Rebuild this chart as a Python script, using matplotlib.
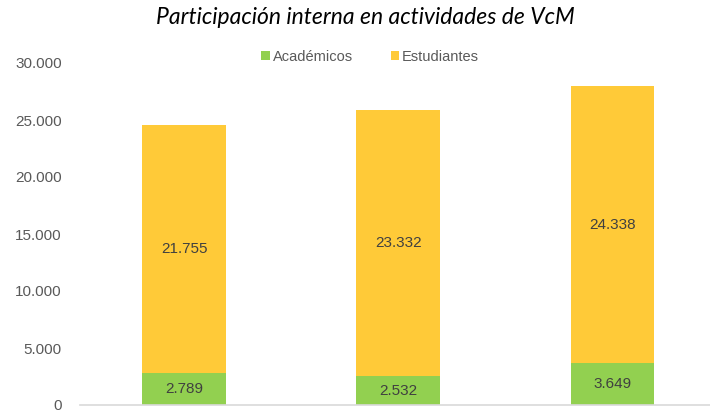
import numpy as np
import matplotlib.pyplot as plt

# datos
grupos = ["2018", "2019", "2020"]
academicos = [2789, 2532, 3649]
estudiantes = [21755, 23332, 24338]
etiquetas_y = ["0", "5.000", "10.000", "15.000", "20.000", "25.000", "30.000"]

verde = "#92D050"
amarillo = "#FFCA38"
gris = "#595959"

def fmt(v):
    return "{:,}".format(v).replace(",", ".")

fig = plt.figure(figsize=(7.10, 4.13), dpi=100)
ax = fig.add_axes([80/710, 8/413, 1 - 80/710, (405 - 63)/413])

x = np.arange(len(grupos))
ancho = 0.39
b1 = ax.bar(x, academicos, ancho, color=verde, label="Académicos")
b2 = ax.bar(x, estudiantes, ancho, bottom=academicos, color=amarillo, label="Estudiantes")

for i in range(len(x)):
    ax.text(x[i], academicos[i]/2, fmt(academicos[i]), ha="center", va="center",
            fontsize=11, color="#404040", family="Liberation Sans")
    ax.text(x[i], academicos[i] + estudiantes[i]/2, fmt(estudiantes[i]), ha="center",
            va="center", fontsize=11, color="#404040", family="Liberation Sans")

ax.set_xlim(-0.486, 2.456)
ax.set_ylim(0, 30000)
ax.set_yticks(np.arange(0, 30001, 5000))
ax.set_yticklabels(etiquetas_y, fontsize=11, color=gris, family="Liberation Sans")
ax.tick_params(axis="y", length=0, pad=13)
ax.set_xticks([])
for s in ["top", "right", "left"]:
    ax.spines[s].set_visible(False)
ax.spines["bottom"].set_color("#D9D9D9")
ax.spines["bottom"].set_linewidth(1.2)

fig.legend(handles=[b1, b2], loc="center", bbox_to_anchor=(370/710, 1 - 57/413),
           ncol=2, frameon=False, handlelength=0.6, handleheight=0.6,
           handletextpad=0.2, columnspacing=2.6,
           prop={"family": "Liberation Sans", "size": 10.5})
for t in fig.legends[0].get_texts():
    t.set_color(gris)

fig.text(365/710, 1 - 17/413, "Participación interna en actividades de VcM",
         ha="center", va="center", fontsize=16.5, style="italic", family="Lato")

fig.savefig("out.png", dpi=100)
